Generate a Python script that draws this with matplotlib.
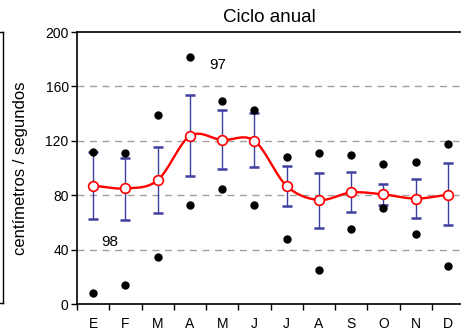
import numpy as np
import matplotlib
matplotlib.use("Agg")
import matplotlib.pyplot as plt
from matplotlib.lines import Line2D

plt.rcParams['font.family'] = ['Liberation Sans', 'DejaVu Sans']

months = ["E", "F", "M", "A", "M", "J", "J", "A", "S", "O", "N", "D"]
mean_vals = [87, 85, 91, 123.5, 120.6, 120, 86.8, 76.5, 82, 80.6, 77.5, 80.4]
err_upper = [111.5, 107.6, 115.7, 153.9, 142.6, 140.2, 101.2, 96.3, 97.3, 88.2, 91.9, 103.4]
err_lower = [62.3, 61.5, 67, 94, 99.3, 100.5, 72, 56.1, 67.9, 72.8, 63, 58]
max_vals = [111.5, 110.8, 138.7, 181.9, 149.5, 142.4, 108.3, 110.8, 109.8, 103.2, 104.2, 117.4]
min_vals = [8.3, 14, 34.6, 73, 84.8, 73, 47.8, 24.8, 55.1, 70.3, 51.5, 28]
y_ticks = [0, 40, 80, 120, 160, 200]
notes = [("98", 0.5, 45.5), ("97", 3.85, 176)]
title = "Ciclo anual"
ylabel = "centímetros / segundos"


def catmull_rom(x, y, n=30):
    x = np.asarray(x, float)
    y = np.asarray(y, float)
    px = np.concatenate([[2 * x[0] - x[1]], x, [2 * x[-1] - x[-2]]])
    py = np.concatenate([[2 * y[0] - y[1]], y, [2 * y[-1] - y[-2]]])
    xs, ys = [], []
    t = np.linspace(0, 1, n, endpoint=False)
    for i in range(1, len(px) - 2):
        for arr, out in ((px, xs), (py, ys)):
            p0, p1, p2, p3 = arr[i - 1], arr[i], arr[i + 1], arr[i + 2]
            out.extend(0.5 * ((2 * p1) + (-p0 + p2) * t
                              + (2 * p0 - 5 * p1 + 4 * p2 - p3) * t ** 2
                              + (-p0 + 3 * p1 - 3 * p2 + p3) * t ** 3))
    xs.append(x[-1]); ys.append(y[-1])
    return np.array(xs), np.array(ys)


fig = plt.figure(figsize=(4.61, 3.32), dpi=100)
ax = fig.add_axes([77 / 461, 1 - 304 / 332, 387 / 461, 272 / 332])

x = np.arange(len(months))
mean = np.array(mean_vals)
yerr = [mean - np.array(err_lower), np.array(err_upper) - mean]

for yv in y_ticks[1:-1]:
    ax.axhline(yv, color="#a0a0a0", lw=1.0, ls=(0, (5, 4)), zorder=0)

ax.errorbar(x, mean, yerr=yerr, fmt="none", ecolor="#3f3fa0", elinewidth=1.0,
            capsize=3.5, capthick=1.8, zorder=2)

ax.plot(x, max_vals, "o", color="black", ms=5, zorder=3, ls="none")
ax.plot(x, min_vals, "o", color="black", ms=5, zorder=3, ls="none")

sx, sy = catmull_rom(x, mean)
ax.plot(sx, sy, color="#ff0000", lw=1.7, zorder=4)
ax.plot(x, mean, "o", mfc="white", mec="#ff0000", mew=1.2, ms=7, ls="none", zorder=5)

for txt, xx, yy in notes:
    ax.text(xx, yy, txt, fontsize=11, ha="center", va="center")

ax.set_xlim(-0.5, 11.5)
ax.set_ylim(0, 200)
ax.set_yticks(y_ticks)
ax.tick_params(axis="y", direction="out", length=4, width=1, labelsize=10, pad=2)
ax.set_xticks(np.arange(-0.5, 12, 1))
ax.set_xticklabels([])
ax.set_xticks(x, minor=True)
ax.set_xticklabels(months, minor=True)
ax.tick_params(axis="x", which="major", direction="out", length=4, width=1)
ax.tick_params(axis="x", which="minor", length=0, labelsize=10, pad=9.5)

for s in ["left", "bottom", "top"]:
    ax.spines[s].set_linewidth(1.2)
ax.spines["right"].set_visible(False)

fig.text(269 / 461, 1 - 18 / 332, title, fontsize=13.5, ha="center", va="center")
fig.text(21 / 461, 1 - 168 / 332, ylabel, fontsize=12, rotation=90,
         ha="center", va="center")

# fragment of neighbouring panel at left edge
fig.add_artist(Line2D([3 / 461, 3 / 461], [1 - 32 / 332, 1 - 303 / 332],
                      color="black", lw=1.0, transform=fig.transFigure))
fig.add_artist(Line2D([0, 3 / 461], [1 - 32 / 332, 1 - 32 / 332],
                      color="black", lw=1.0, transform=fig.transFigure))
fig.add_artist(Line2D([0, 3 / 461], [1 - 303 / 332, 1 - 303 / 332],
                      color="black", lw=1.0, transform=fig.transFigure))

fig.savefig("out.png", dpi=100)
